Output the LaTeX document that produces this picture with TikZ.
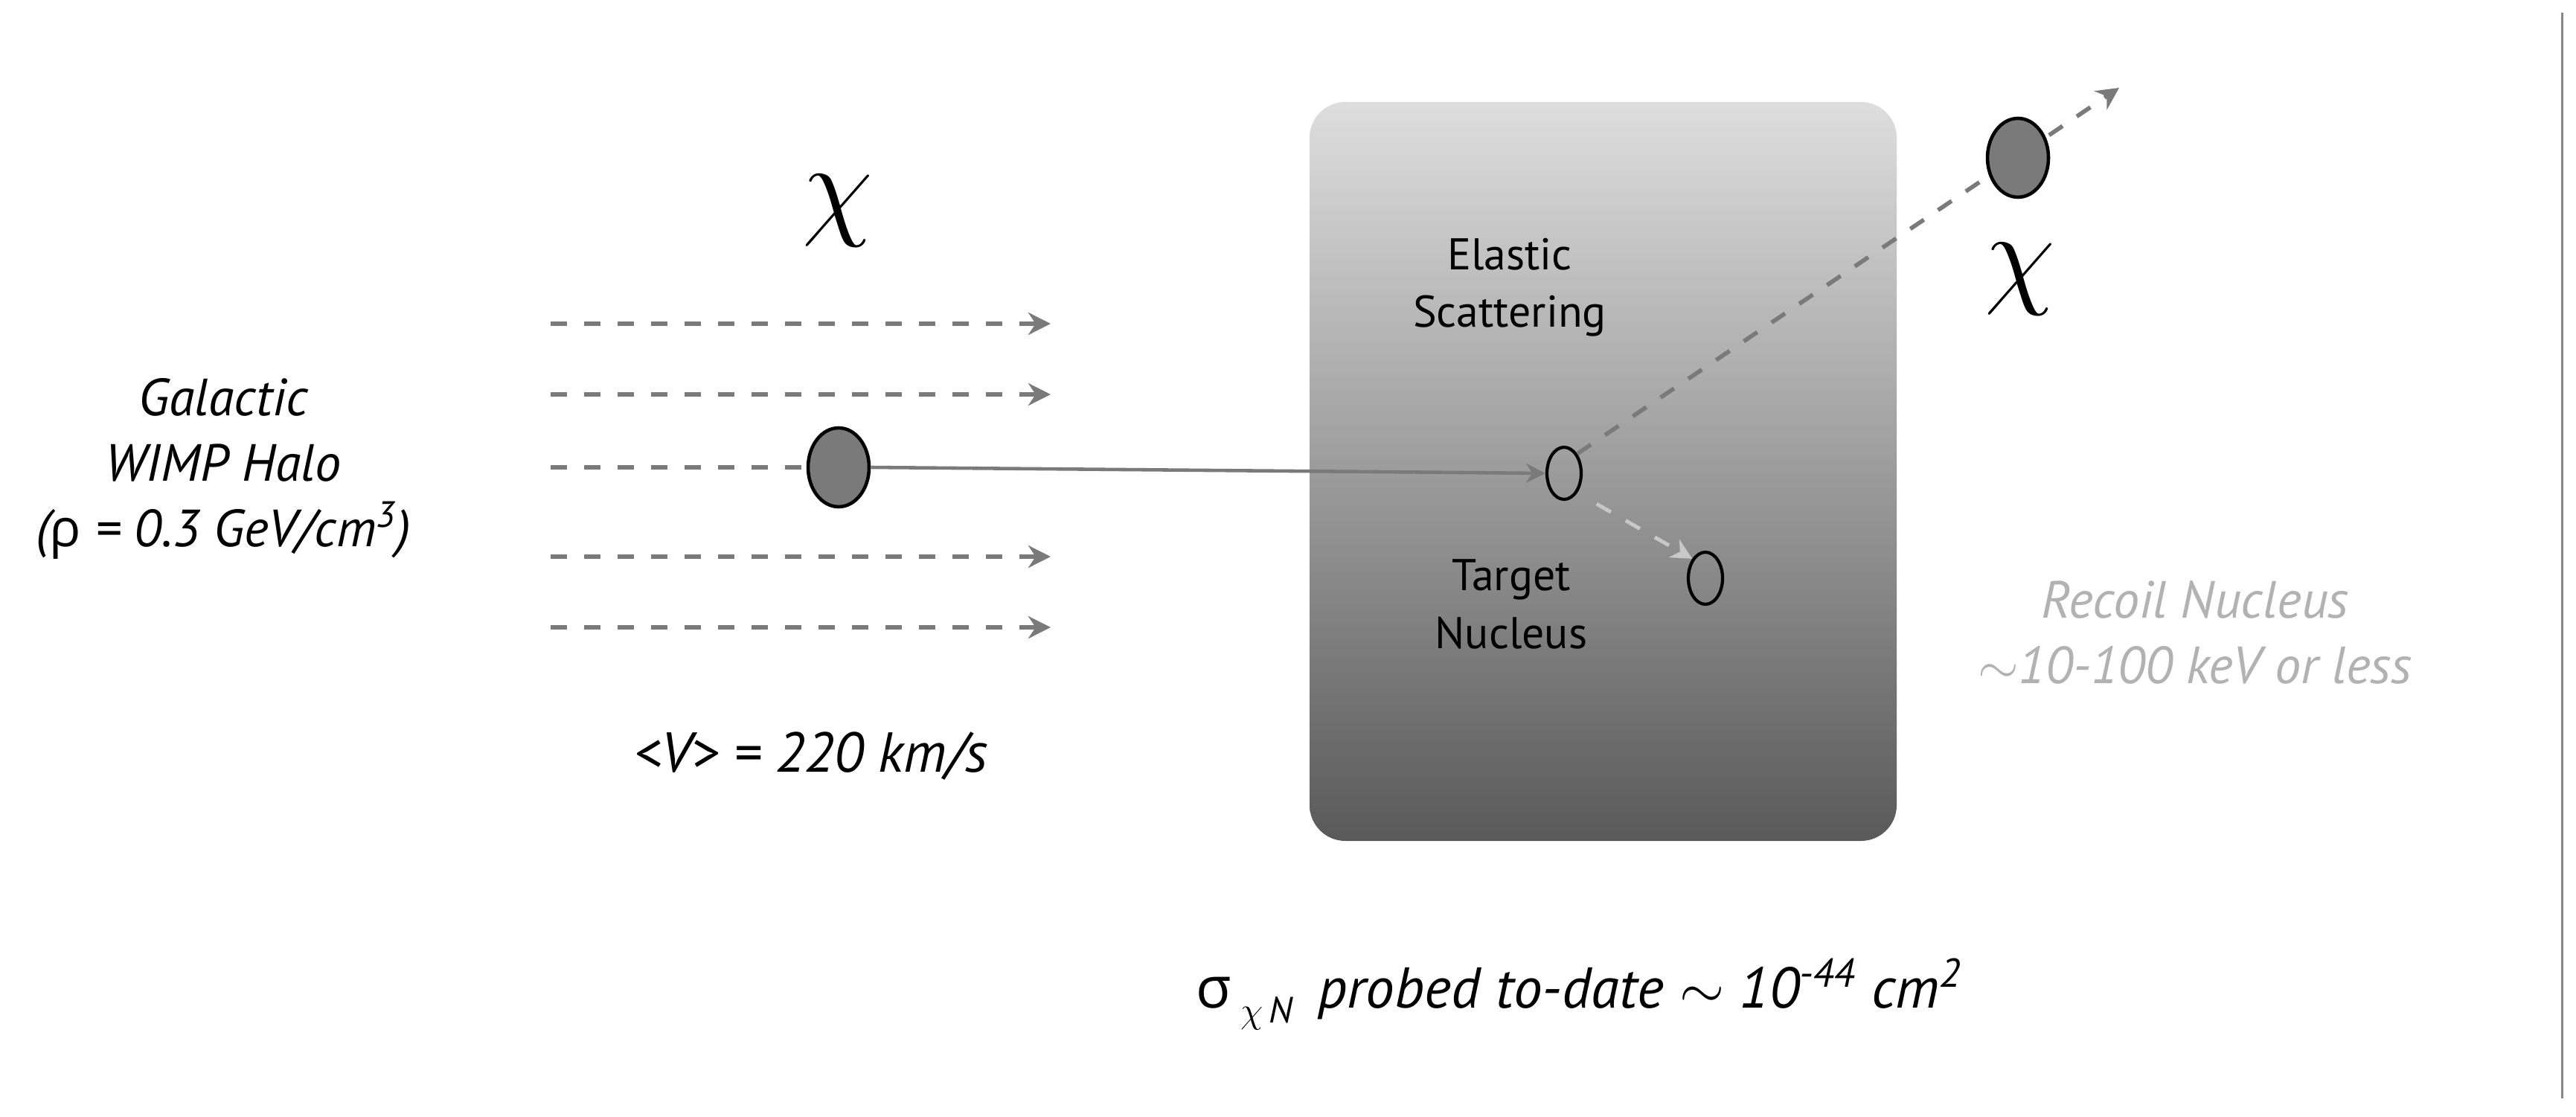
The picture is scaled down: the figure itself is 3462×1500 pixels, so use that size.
\RequirePackage{fix-cm}
\documentclass[tikz,border=0pt]{standalone}
\usepackage{fontspec}
\setmainfont{PT Sans}
\newfontfamily\grk{Open Sans}
\usetikzlibrary{shapes.geometric,arrows.meta}
\definecolor{linha}{HTML}{7A7A7A}
\definecolor{bola}{HTML}{7A7A7A}
\definecolor{recuo}{HTML}{C8C8C8}
\definecolor{cinzatexto}{HTML}{B2B2B2}
\tikzset{
  particula/.style={ellipse, draw=black, line width=1.3pt, fill=bola, minimum width=8.2mm, minimum height=10.6mm, inner sep=0pt},
  nucleo/.style={ellipse, draw=black, line width=1.2pt, minimum width=4.6mm, minimum height=7mm, inner sep=0pt},
  fluxo/.style={draw=linha, line width=1.6pt, dash pattern=on 2.2mm off 2.3mm, -{Stealth[length=3mm,width=3mm]}},
  rotulo/.style={font=\fontsize{20}{25}\selectfont\itshape, align=center},
  caixatxt/.style={font=\fontsize{17}{22}\selectfont, align=center},
  letrachi/.style={font=\fontsize{44}{44}\selectfont, inner sep=0pt},
}
\begin{document}
\begin{tikzpicture}[x=0.1mm, y=-0.1mm]
  \useasboundingbox (0,0) rectangle (3462,1500);
  % caixa com degradê
  \node[rounded corners=4.8mm, top color=black!13, bottom color=black!65, minimum width=78.9mm, minimum height=99.3mm, inner sep=0pt] (caixa) at (2154.5,633.5) {};
  % halo galáctico
  \node[rotulo] (halo) at (300,630) {Galactic\\WIMP Halo\\({\grk\upshape ρ} = 0.3 GeV/cm\textsuperscript{3})};
  \node[letrachi] (chiA) at (1126,283) {$\chi$};
  % partícula incidente
  \node[particula] (bolaA) at (1127,628) {};
  \foreach \i/\y in {1/435, 2/530, 4/748, 5/843} {
    \coordinate (ini\i) at (740,\y);
    \coordinate (fim\i) at (1412,\y);
    \draw[fluxo] (ini\i) -- (fim\i);
  }
  \coordinate (ini3) at (740,628);
  \draw[fluxo, -] (ini3) -- (bolaA.west);
  \node[rotulo, font=\fontsize{21.5}{25}\selectfont\itshape] (vel) at (1090,1016) {<V> = 220 km/s};
  % núcleo alvo e núcleo de recuo
  \node[nucleo] (alvo) at (2102,636) {};
  \node[nucleo] (recoil) at (2292,777) {};
  \draw[draw=linha, line width=1.3pt, -{Stealth[length=2.6mm,width=2.6mm]}] (bolaA.east) -- (alvo.west);
  \draw[draw=recuo, line width=1.4pt, dash pattern=on 2.2mm off 2.3mm, shorten <=3mm, -{Stealth[length=2.8mm,width=2.8mm]}] (alvo.south east) -- (recoil.north west);
  \node[caixatxt] (elastico) at (2029,386) {Elastic\\Scattering};
  \node[caixatxt] (alvotxt) at (2031,812) {Target\\Nucleus};
  % partícula espalhada
  \coordinate (ponta) at (2848,118);
  \draw[fluxo] (alvo.north east) -- (ponta);
  \node[particula] (bolaB) at (2712,212) {};
  \node[letrachi] (chiB) at (2715,375) {$\chi$};
  \node[rotulo, text=cinzatexto] (recuotxt) at (2950,850) {Recoil Nucleus\\$\sim$10-100 keV or less};
  % seção de choque
  \node[rotulo, font=\fontsize{22}{25}\selectfont\itshape] (secao) at (2122,1336) {{\grk\upshape σ}\,\raisebox{-0.5ex}{\fontsize{14}{14}\selectfont$\chi$\,N}\, probed to-date $\sim$ 10\textsuperscript{-44} cm\textsuperscript{2}};
  % linha da borda direita
  \draw[draw=black!47, line width=0.3mm] (3443,17) -- (3443,1476);
\end{tikzpicture}
\end{document}
